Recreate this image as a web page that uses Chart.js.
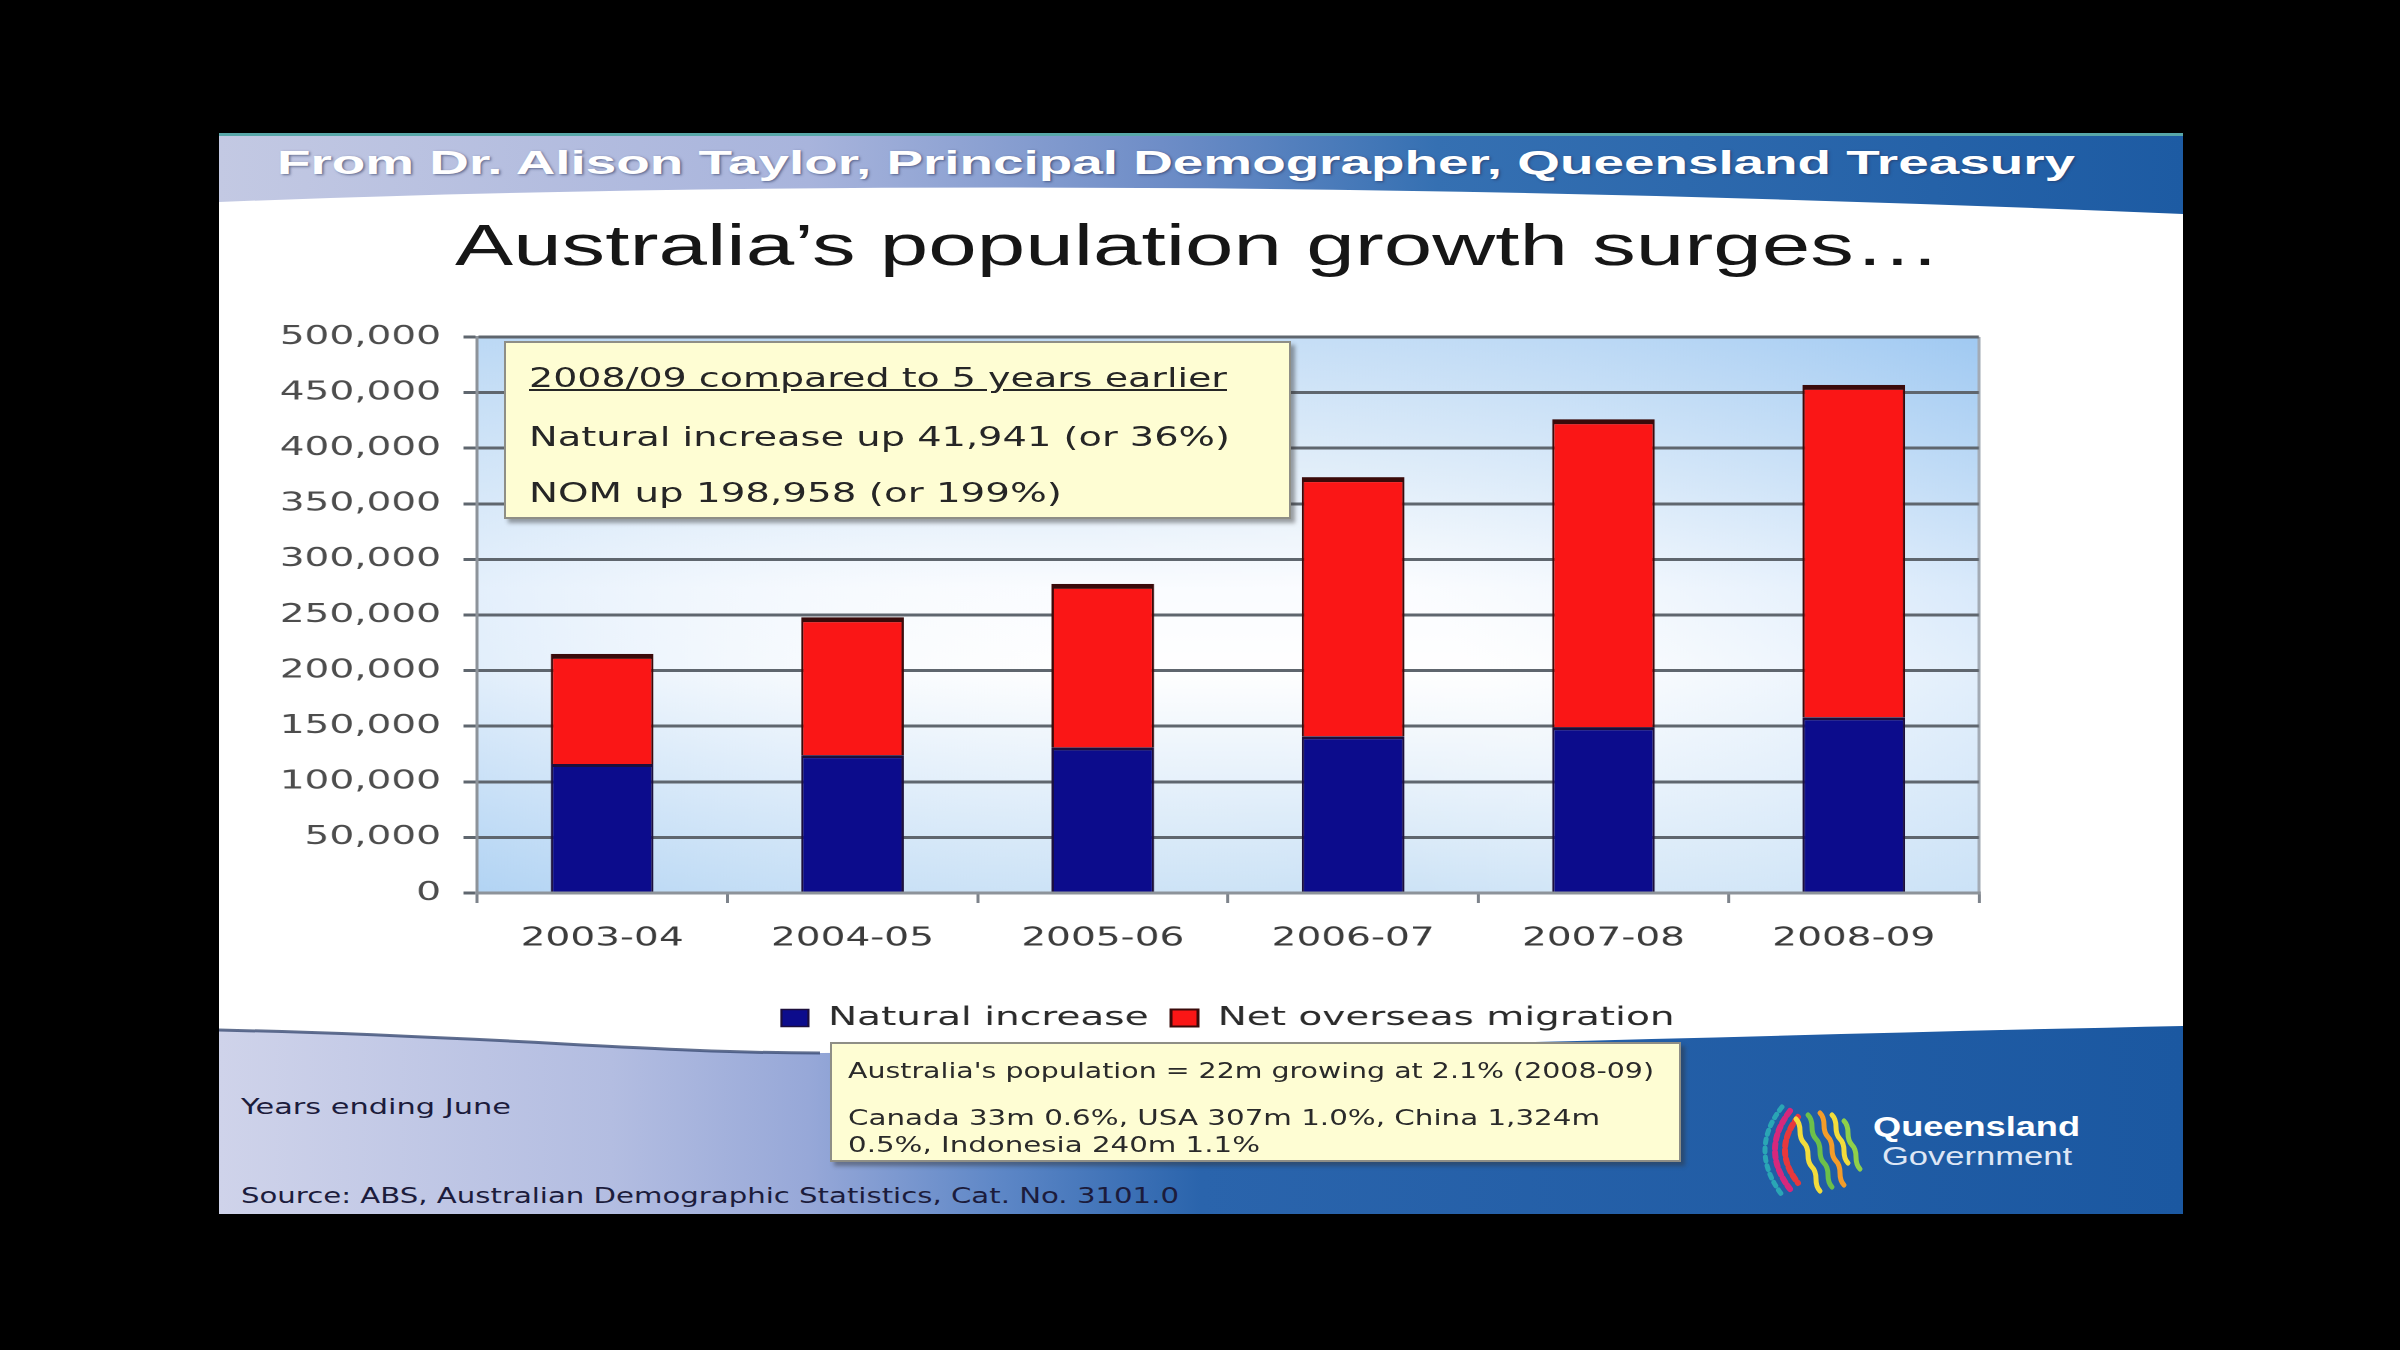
<!DOCTYPE html>
<html>
<head>
<meta charset="utf-8">
<title>Australia's population growth surges</title>
<script src="https://cdn.jsdelivr.net/npm/chart.js@4.4.1/dist/chart.umd.min.js"></script>
<style>
  html, body { margin: 0; padding: 0; background: #000; }
  #stage { position: relative; width: 2400px; height: 1350px; overflow: hidden; background: #000; }
  #deco { position: absolute; left: 0; top: 0; }
  /* the slide is a 4:3 deck stretched wide, so the chart is drawn narrow and stretched */
  #chartWrap { position: absolute; left: 219px; top: 300px; width: 1200px; height: 790px;
               transform: scaleX(1.5); transform-origin: 0 0; }
  .txt { position: absolute; white-space: nowrap; line-height: 1; transform-origin: 0 0; }
  .box { position: absolute; box-sizing: border-box; background: #fefdd3;
         border: 2px solid #8e8e86; box-shadow: 4px 4px 4px rgba(50, 50, 50, 0.45); }
</style>
</head>
<body>
<div id="stage">
  <svg id="deco" width="2400" height="1350">
    <defs>
      <linearGradient id="hdr" x1="219" y1="0" x2="2183" y2="0" gradientUnits="userSpaceOnUse">
        <stop offset="0" stop-color="#c3c9e3"/>
        <stop offset="0.3" stop-color="#a8b4dc"/>
        <stop offset="0.48" stop-color="#6e8dc7"/>
        <stop offset="0.62" stop-color="#3570b2"/>
        <stop offset="1" stop-color="#1d5ba3"/>
      </linearGradient>
      <linearGradient id="ftr" x1="219" y1="0" x2="2183" y2="0" gradientUnits="userSpaceOnUse">
        <stop offset="0" stop-color="#cfd3ea"/>
        <stop offset="0.2" stop-color="#b3bde1"/>
        <stop offset="0.3" stop-color="#97a8d8"/>
        <stop offset="0.4" stop-color="#5c86c6"/>
        <stop offset="0.5" stop-color="#2a64ac"/>
        <stop offset="1" stop-color="#1b58a1"/>
      </linearGradient>
    </defs>
    <rect x="219" y="133" width="1964" height="1081" fill="#ffffff"/>
    <path d="M219,133 H2183 V214 Q1100,168 219,202 Z" fill="url(#hdr)"/>
    <rect x="219" y="133" width="1964" height="3" fill="#58a7a9"/>
    <path d="M219,1030 C500,1036 650,1053 820,1053 C1300,1052 1700,1036 2183,1026 V1214 H219 Z" fill="url(#ftr)"/>
    <path d="M219,1030 C500,1036 650,1053 820,1053" fill="none" stroke="#3b4c74" stroke-width="3" opacity="0.8"/>
    <g transform="translate(1760,1103)" fill="none" stroke-linecap="round">
      <path d="M22,4 Q-12,47 22,92" stroke="#2aa6b5" stroke-width="5" stroke-dasharray="4 5"/>
      <path d="M30,8 Q0,47 30,86" stroke="#d6287c" stroke-width="6" stroke-dasharray="5 4"/>
      <path d="M38,14 Q12,47 38,80" stroke="#e8383c" stroke-width="6" stroke-dasharray="5 4"/>
      <path d="M36,16 c8,8 0,16 8,24 s0,16 8,24 s0,16 8,24" stroke="#f2dc3c" stroke-width="5"/>
      <path d="M48,12 c8,8 0,16 8,24 s0,16 8,24 s0,16 8,24" stroke="#6cc04a" stroke-width="5"/>
      <path d="M60,10 c8,8 0,16 8,24 s0,16 8,24 s0,16 8,24" stroke="#f39c2a" stroke-width="5"/>
      <path d="M72,12 c8,8 0,16 8,24 s0,16 8,24" stroke="#f2dc3c" stroke-width="5"/>
      <path d="M84,18 c8,8 0,16 8,24 s0,16 8,24" stroke="#8fd04a" stroke-width="5"/>
    </g>
  </svg>
  <div id="chartWrap"><canvas id="popChart"></canvas></div>
  <div class="box" style="left:504px; top:341px; width:787px; height:178px;"></div>
  <div class="box" style="left:830px; top:1042px; width:851px; height:120px;"></div>
</div>

<script>
// ---- chart data ----
const years = ["2003-04", "2004-05", "2005-06", "2006-07", "2007-08", "2008-09"];
const naturalIncrease = [116000, 124000, 131000, 141000, 149000, 158000];
const netOverseasMigration = [99000, 124000, 147000, 233000, 277000, 299000];
const seriesNames = ["Natural increase", "Net overseas migration"];
const yMax = 500000;
const yStep = 50000;

// ---- slide texts: x, cap-top, size, target width ----
const SANS = "'Liberation Sans', Arial, sans-serif";
const GOTHIC = "'DejaVu Sans', sans-serif";
const slideTexts = [
  { text: "From Dr. Alison Taylor, Principal Demographer, Queensland Treasury", x: 277, capTop: 148, size: 33, width: 1798, family: SANS, weight: "bold", color: "#ffffff", shadow: true },
  { text: "Australia\u2019s population growth surges\u2026", x: 455, capTop: 219, size: 57, width: 1486, family: SANS, color: "#161616" },
  { text: "2008/09 compared to 5 years earlier", x: 529, capTop: 366, size: 26, width: 698, family: GOTHIC, color: "#262626", underline: true },
  { text: "Natural increase up 41,941 (or 36%)", x: 529, capTop: 425, size: 26, width: 701, family: GOTHIC, color: "#262626" },
  { text: "NOM up 198,958 (or 199%)", x: 529, capTop: 481, size: 26, width: 533, family: GOTHIC, color: "#262626" },
  { text: "Australia's population = 22m growing at 2.1% (2008-09)", x: 848, capTop: 1061, size: 21, width: 806, family: GOTHIC, color: "#2a2a2a" },
  { text: "Canada 33m 0.6%, USA 307m 1.0%, China 1,324m", x: 848, capTop: 1108, size: 21, width: 752, family: GOTHIC, color: "#2a2a2a" },
  { text: "0.5%, Indonesia 240m 1.1%", x: 848, capTop: 1135, size: 21, width: 412, family: GOTHIC, color: "#2a2a2a" },
  { text: "Years ending June", x: 241, capTop: 1097, size: 21, width: 270, family: GOTHIC, color: "#1c1c3c" },
  { text: "Source: ABS, Australian Demographic Statistics, Cat. No. 3101.0", x: 241, capTop: 1186, size: 21, width: 938, family: GOTHIC, color: "#1c1c3c" },
  { text: "Queensland", x: 1873, capTop: 1115, size: 28, width: 207, family: SANS, weight: "bold", color: "#ffffff" },
  { text: "Government", x: 1882, capTop: 1145, size: 25, width: 190, family: SANS, color: "#dde6f5" }
];

const stage = document.getElementById("stage");

function placeText(t) {
  const el = document.createElement("div");
  el.className = "txt";
  el.textContent = t.text;
  el.style.font = `${t.weight || "normal"} ${t.size}px ${t.family}`;
  el.style.color = t.color;
  if (t.underline) el.style.textDecoration = "underline";
  if (t.shadow) el.style.textShadow = "1px 1px 2px rgba(40,50,90,0.6)";
  el.style.zIndex = 5;
  stage.appendChild(el);
  // offset from line box top to cap top (line-height: 1)
  const capOffset = t.family === GOTHIC ? 0.117 : 0.1305;
  el.style.left = t.x + "px";
  el.style.top = (t.capTop - capOffset * t.size) + "px";
  const w = el.getBoundingClientRect().width;
  el.style.transform = `scaleX(${t.width / w})`;
}
slideTexts.forEach(placeText);

// ---- plot area background ----
const plotBackground = {
  id: "plotBackground",
  beforeDraw(chart) {
    const { ctx, chartArea: a } = chart;
    ctx.save();
    const v = ctx.createLinearGradient(0, a.top, 0, a.bottom);
    v.addColorStop(0, "#b9d7f4");
    v.addColorStop(0.25, "#dcebf9");
    v.addColorStop(0.45, "#fafcff");
    v.addColorStop(0.6, "#ffffff");
    v.addColorStop(0.8, "#e6f1fb");
    v.addColorStop(1, "#cbe2f6");
    ctx.fillStyle = v;
    ctx.fillRect(a.left, a.top, a.width, a.height);

    const d = ctx.createLinearGradient(a.left, a.bottom, a.right, a.top);
    d.addColorStop(0, "rgba(140,190,240,0.40)");
    d.addColorStop(0.45, "rgba(255,255,255,0)");
    d.addColorStop(0.6, "rgba(255,255,255,0.2)");
    d.addColorStop(1, "rgba(130,185,240,0.45)");
    ctx.fillStyle = d;
    ctx.fillRect(a.left, a.top, a.width, a.height);

    ctx.strokeStyle = "#a3abb5";
    ctx.lineWidth = 2;
    ctx.beginPath();
    ctx.moveTo(a.right, a.top);
    ctx.lineTo(a.right, a.bottom);
    ctx.stroke();
    ctx.restore();
  }
};

const tickFont = { family: "DejaVu Sans", size: 26 };

new Chart(document.getElementById("popChart"), {
  type: "bar",
  data: {
    labels: years,
    datasets: [
      {
        label: seriesNames[0],
        data: naturalIncrease,
        backgroundColor: "#0c0c8c",
        borderColor: "#1c0f3c",
        borderWidth: { top: 3, left: 1.5, right: 1.5, bottom: 0 },
        borderSkipped: false
      },
      {
        label: seriesNames[1],
        data: netOverseasMigration,
        backgroundColor: "#fa1616",
        borderColor: "#3a0a0a",
        borderWidth: { top: 5, left: 1.5, right: 1.5, bottom: 0 },
        borderSkipped: false
      }
    ]
  },
  options: {
    responsive: true,
    maintainAspectRatio: false,
    animation: false,
    devicePixelRatio: 2,
    layout: { padding: { top: 37, right: 26.7, bottom: 49, left: 0 } },
    datasets: { bar: { barPercentage: 0.41, categoryPercentage: 1 } },
    plugins: {
      legend: {
        position: "bottom",
        fullSize: false,
        labels: {
          font: { family: "DejaVu Sans", size: 26 },
          color: "#2b2b2b",
          boxWidth: 18,
          boxHeight: 17,
          padding: 15
        }
      },
      tooltip: { enabled: false }
    },
    scales: {
      x: {
        stacked: true,
        grid: { drawOnChartArea: false, drawTicks: true, tickLength: 10, color: "#7d838b", lineWidth: 2 },
        border: { color: "#8d939a", width: 3 },
        ticks: { font: tickFont, color: "#3c3c3c", padding: 20 },
        afterFit: s => { s.height = 97; }
      },
      y: {
        stacked: true,
        min: 0,
        max: yMax,
        ticks: {
          stepSize: yStep,
          font: tickFont,
          color: "#4d4d4d",
          padding: 15,
          callback: v => v.toLocaleString("en-US")
        },
        grid: { color: "#5f666e", lineWidth: 3, tickLength: 9 },
        border: { color: "#8d939a", width: 2 },
        afterFit: s => { s.width = 172; }
      }
    }
  },
  plugins: [plotBackground]
});
</script>
</body>
</html>
